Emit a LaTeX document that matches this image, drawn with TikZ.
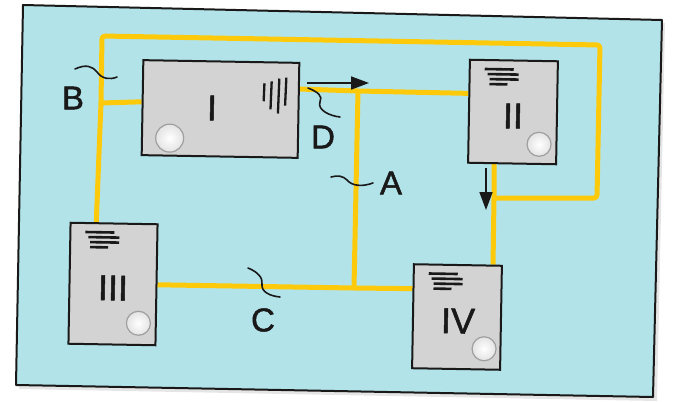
\documentclass[tikz,border=0pt]{standalone}
\usepackage{fontspec}
\setmainfont{Liberation Sans}
\newfontfamily\heavyfont[FakeBold=1.4]{Liberation Sans}
\usetikzlibrary{arrows.meta,calc}
\pgfdeclarelayer{back}
\pgfdeclarelayer{wires}
\pgfsetlayers{back,wires,main}
\definecolor{board}{RGB}{178,227,233}
\definecolor{wirecol}{RGB}{252,202,10}
\definecolor{boxgray}{RGB}{211,211,211}
\definecolor{ink}{RGB}{25,25,25}
\newcommand\textlines[1]{%
  \begin{scope}[shift={(#1.north west)},rotate=-1]
    \draw[txtline] (16,10) -- (45,10);
    \draw[txtline] (19,15) -- (50,15);
    \draw[txtline] (21,20) -- (50,20);
    \draw[txtline] (21,25) -- (39,25);
  \end{scope}}
\newcommand\knobSE[2]{%
  \path[knob] ($(#1.south east)+(#2)$) circle (12);}
\begin{document}
\begin{tikzpicture}[x=1pt,y=-1pt,
  wire/.style={draw=wirecol, line width=5pt, line join=round},
  unit/.style={draw=ink, fill=boxgray, line width=2pt, inner sep=0pt, rotate=-1},
  squig/.style={draw=ink, line width=1.6pt, line cap=round},
  lbl/.style={font=\heavyfont\fontsize{33}{33}\selectfont, text=ink},
  num/.style={font=\heavyfont\fontsize{36}{36}\selectfont, text=ink, rotate=-1},
  txtline/.style={draw=ink, line width=2.6pt},
  knob/.style={draw=gray!75, line width=1.2pt, inner color=white, outer color=gray!22},
  flow/.style={draw=ink, line width=1.6pt, -{Triangle[length=18pt,width=13pt]}}
]
\useasboundingbox (0,0) rectangle (681,402);
% board
\begin{pgfonlayer}{back}
  \fill[gray!20] (30,9) -- (665,23) -- (657,401) -- (19,389) -- cycle;
  \draw[fill=board, draw=ink, line width=2pt, line join=round] (23,5) -- (662,20) -- (653,397) -- (16,385) -- cycle;
\end{pgfonlayer}
% units
\node[unit, minimum width=156pt, minimum height=95pt] (I) at (220.5,109) {};
\node[unit, minimum width=88pt, minimum height=103pt] (II) at (513,112) {};
\node[unit, minimum width=87pt, minimum height=121pt] (III) at (113,284) {};
\node[unit, minimum width=88pt, minimum height=104pt] (IV) at (457,317) {};
% junctions
\coordinate (tl) at (102,36);
\coordinate (tr) at (600,45);
\coordinate (brc) at (597,198);
\coordinate (jII) at (494,198);
\coordinate (jB) at (101,103);
\coordinate (jA) at (358,91);
\coordinate (jC) at (354,288);
% wires
\begin{pgfonlayer}{wires}
  \draw[wire, rounded corners=3pt] ($(III.north west)!0.3!(III.north east)$) -- (jB) -- (tl) -- (tr) -- (brc) -- (jII);
  \draw[wire] (jB) -- ($(I.north west)!0.44!(I.south west)$);
  \draw[wire] ($(I.north east)!0.28!(I.south east)$) -- (jA) -- ($(II.north west)!0.33!(II.south west)$);
  \draw[wire] (jA) -- (jC);
  \draw[wire] ($(III.north east)!0.5!(III.south east)$) -- (jC) -- ($(IV.north west)!0.24!(IV.south west)$);
  \draw[wire] ($(II.south west)!0.3!(II.south east)$) -- (jII) -- ($(IV.north west)!0.89!(IV.north east)$);
\end{pgfonlayer}
% numerals
\node[num] (nI) at (212,108) {I};
\node[num] (nII) at (513,116) {II};
\node[num] (nIII) at (113,288) {III};
\node[num] (nIV) at (458,321) {IV};
% text lines
\textlines{II}
\textlines{III}
\textlines{IV}
% knobs
\knobSE{II}{-18,-21}
\knobSE{III}{-18,-23}
\knobSE{IV}{-17,-22}
\path[knob] ($(I.south west)+(29,-18)$) circle (14);
% hatch in unit I
\begin{scope}[shift={(I.north east)},rotate=-1]
  \draw[txtline, line width=2.3pt] (-36,40) -- (-35.5,22);
  \draw[txtline, line width=2.3pt] (-29,48) -- (-28.3,20);
  \draw[txtline, line width=2.3pt] (-21.5,52) -- (-20.7,17);
  \draw[txtline, line width=2.3pt] (-14.5,44) -- (-13.7,16);
\end{scope}
% flow arrows
\coordinate (a1s) at (307,83);
\coordinate (a1e) at (369,83);
\coordinate (a2s) at (486,168);
\coordinate (a2e) at (486,210);
\draw[flow] (a1s) -- (a1e);
\draw[flow] (a2s) -- (a2e);
% labels
\node[lbl] (B) at (73,98) {B};
\node[lbl] (D) at (323,137) {D};
\node[lbl] (A) at (391,183) {A};
\node[lbl] (C) at (263,320) {C};
% squiggles
\draw[squig] (75,69) .. controls (86,64) and (92,66) .. (97,72) .. controls (102,79) and (110,80) .. (117,77);
\draw[squig] (308,88) .. controls (318,92) and (323,96) .. (320,102) .. controls (317,110) and (330,116) .. (340,117);
\draw[squig] (331,177) .. controls (338,175) and (343,176) .. (347,180) .. controls (352,186) and (362,187) .. (373,183);
\draw[squig] (248,268) .. controls (258,272) and (263,278) .. (262,284) .. controls (261,292) and (270,296) .. (280,297);
\end{tikzpicture}
\end{document}
